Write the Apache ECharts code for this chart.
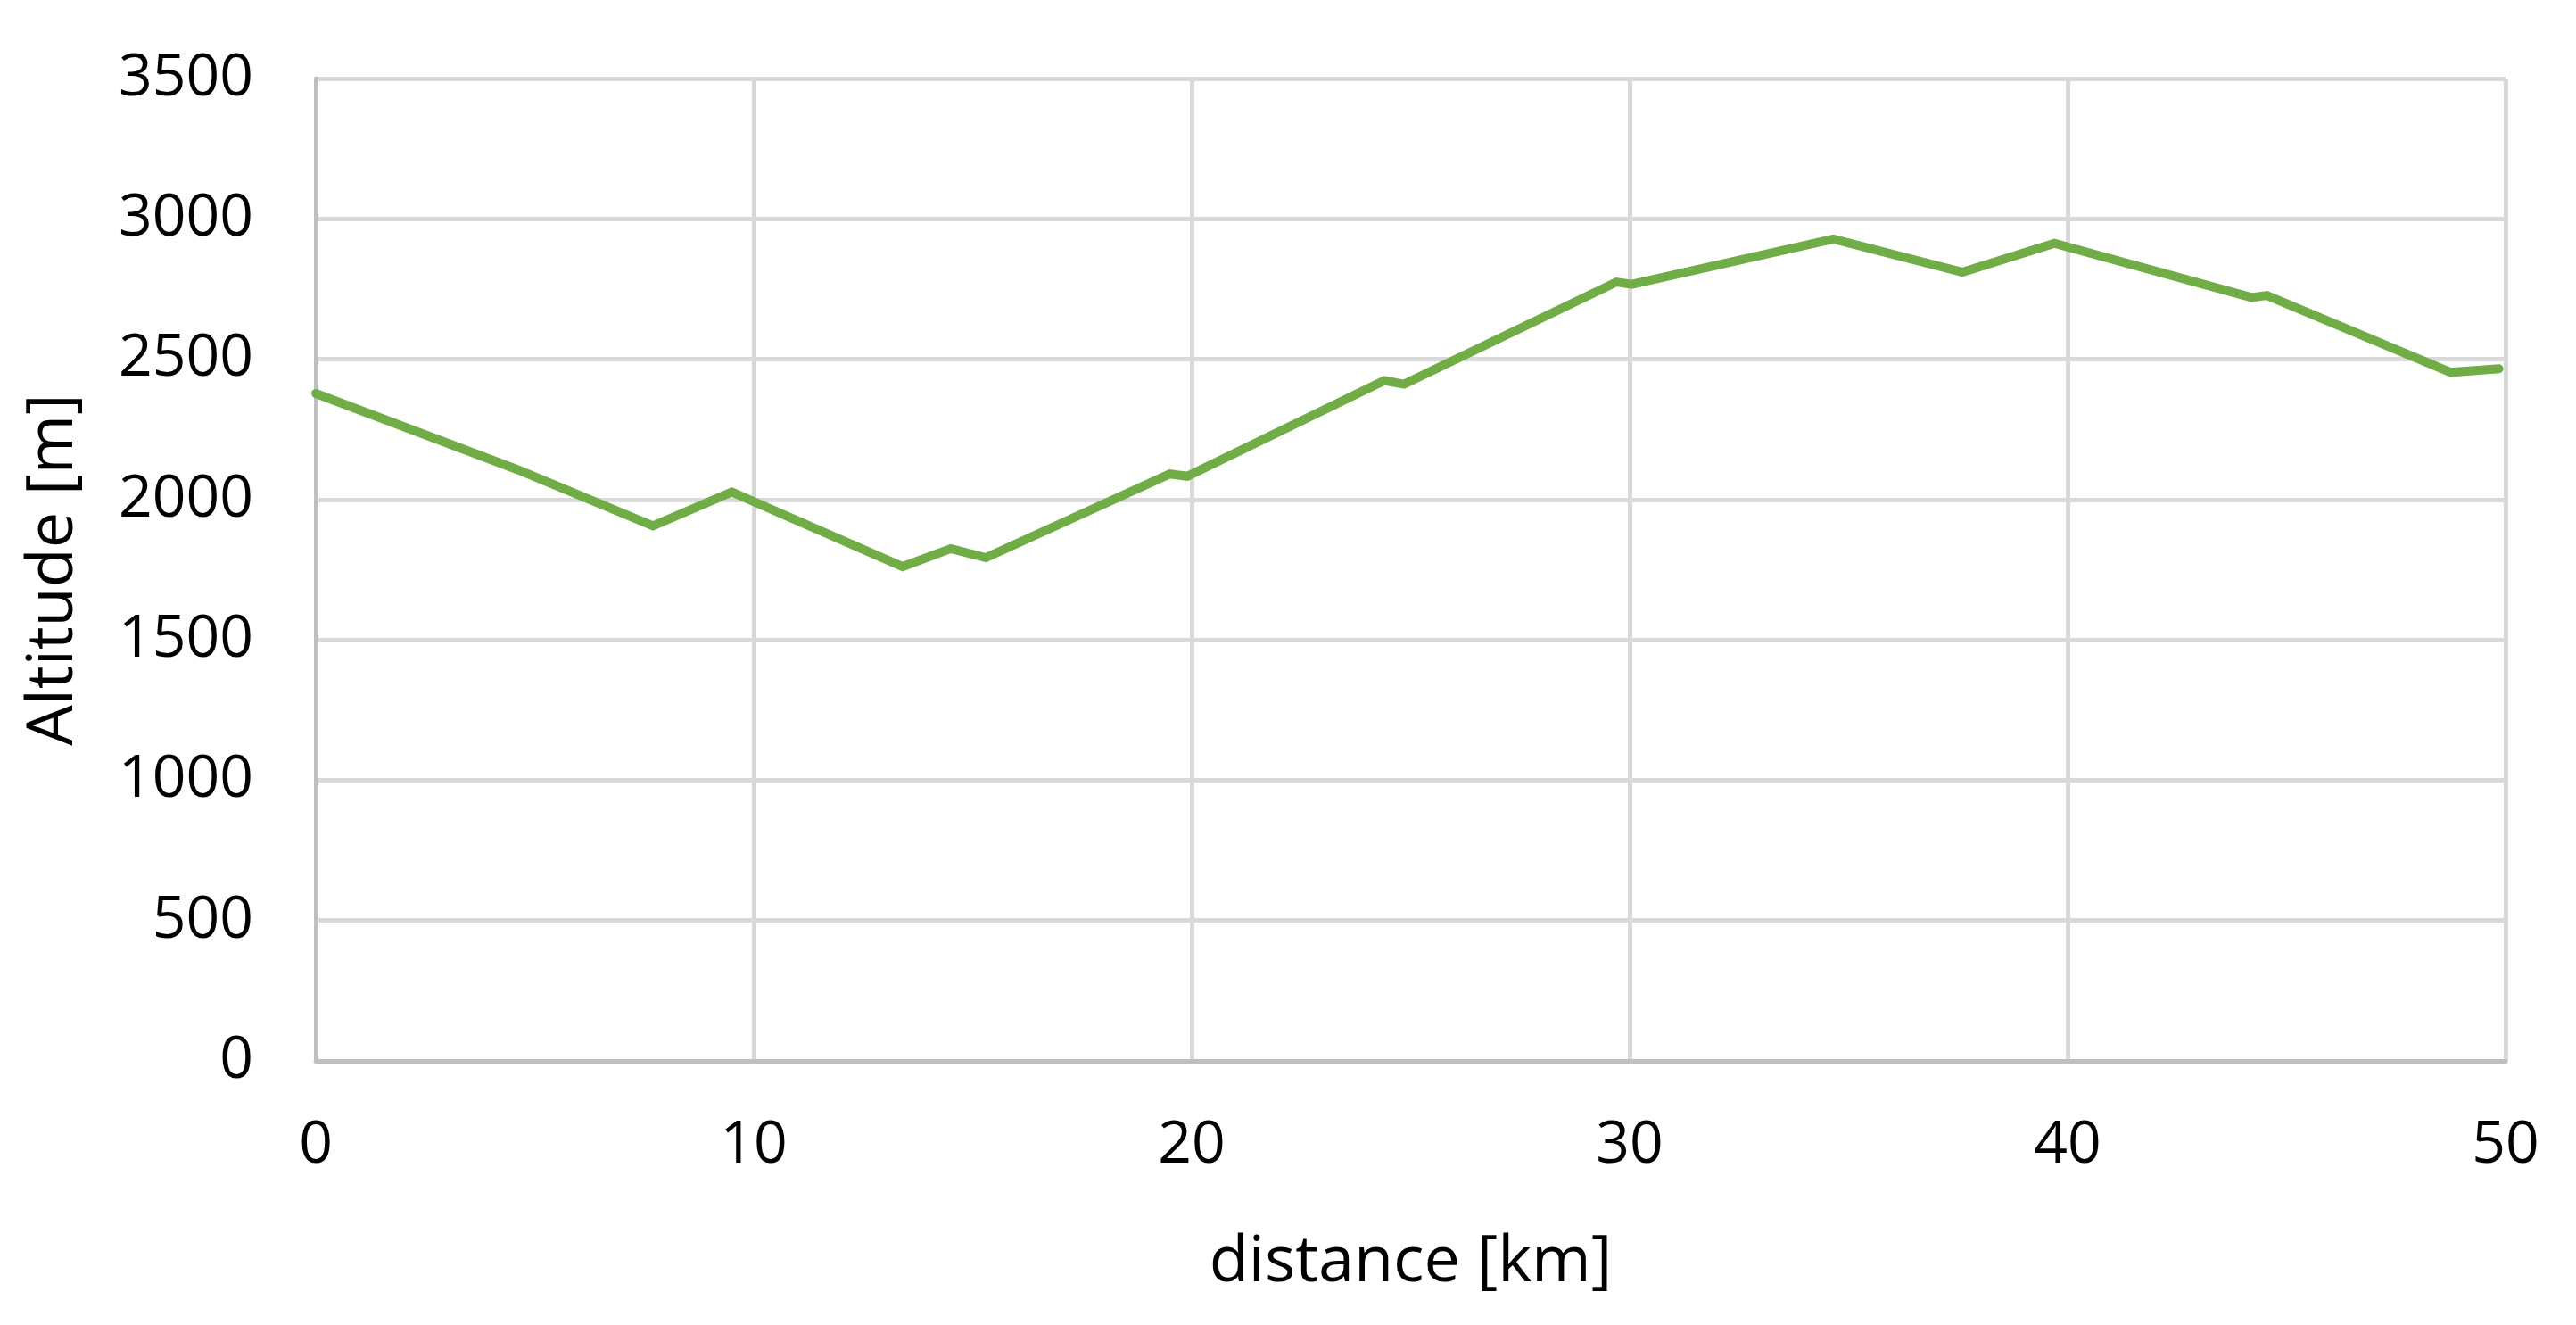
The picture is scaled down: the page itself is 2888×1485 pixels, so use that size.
<!DOCTYPE html>
<html>
<head>
<meta charset="utf-8">
<script src="https://cdn.jsdelivr.net/npm/echarts@6/dist/echarts.min.js"></script>
<style>html,body{margin:0;padding:0;background:#fff}#c{width:2888px;height:1485px}</style>
</head>
<body>
<div id="c"></div>
<script>
const distanceKm = [0, 4.6, 7.7, 9.5, 13.4, 14.5, 15.3, 19.5, 19.9, 24.4, 24.85, 29.7, 30.05, 34.65, 37.6, 39.7, 44.2, 44.55, 48.75, 49.85];
const altitudeM  = [2378, 2107, 1906, 2027, 1761, 1825, 1793, 2091, 2083, 2424, 2411, 2775, 2767, 2928, 2810, 2913, 2720, 2727, 2453, 2466];
const xTicks = [0, 10, 20, 30, 40, 50];
const yTicks = [0, 500, 1000, 1500, 2000, 2500, 3000, 3500];
const xTitle = 'distance [km]';
const yTitle = 'Altitude [m]';

const pts = distanceKm.map((d, i) => [d, altitudeM[i]]);
const font = '"Open Sans", "Liberation Sans", sans-serif';
const chart = echarts.init(document.getElementById('c'), null, {renderer: 'canvas'});
chart.setOption({
  animation: false,
  backgroundColor: '#ffffff',
  grid: {left: 354, right: 79, top: 88, bottom: 296, containLabel: false},
  xAxis: {
    type: 'value', min: xTicks[0], max: xTicks[xTicks.length - 1], interval: 10,
    name: xTitle, nameLocation: 'middle', nameGap: 190,
    nameTextStyle: {fontFamily: font, fontSize: 72, color: '#000'},
    axisLine: {show: true, onZero: false, lineStyle: {color: '#BFBFBF', width: 5}},
    axisTick: {show: false},
    axisLabel: {fontFamily: font, fontSize: 66, color: '#000', margin: 62, formatter: v => String(v)},
    splitLine: {show: true, lineStyle: {color: '#D9D9D9', width: 5}}
  },
  yAxis: {
    type: 'value', min: yTicks[0], max: yTicks[yTicks.length - 1], interval: 500,
    name: yTitle, nameLocation: 'middle', nameGap: 258,
    nameTextStyle: {fontFamily: font, fontSize: 72, color: '#000'},
    axisLine: {show: true, lineStyle: {color: '#BFBFBF', width: 5}},
    axisTick: {show: false},
    axisLabel: {fontFamily: font, fontSize: 66, color: '#000', margin: 70, formatter: v => String(v)},
    splitLine: {show: true, lineStyle: {color: '#D9D9D9', width: 5}}
  },
  series: [{
    type: 'line', data: pts, showSymbol: false, symbol: 'none',
    lineStyle: {color: '#70AD47', width: 10, cap: 'round', join: 'miter'},
    z: 5
  }]
});
</script>
</body>
</html>
